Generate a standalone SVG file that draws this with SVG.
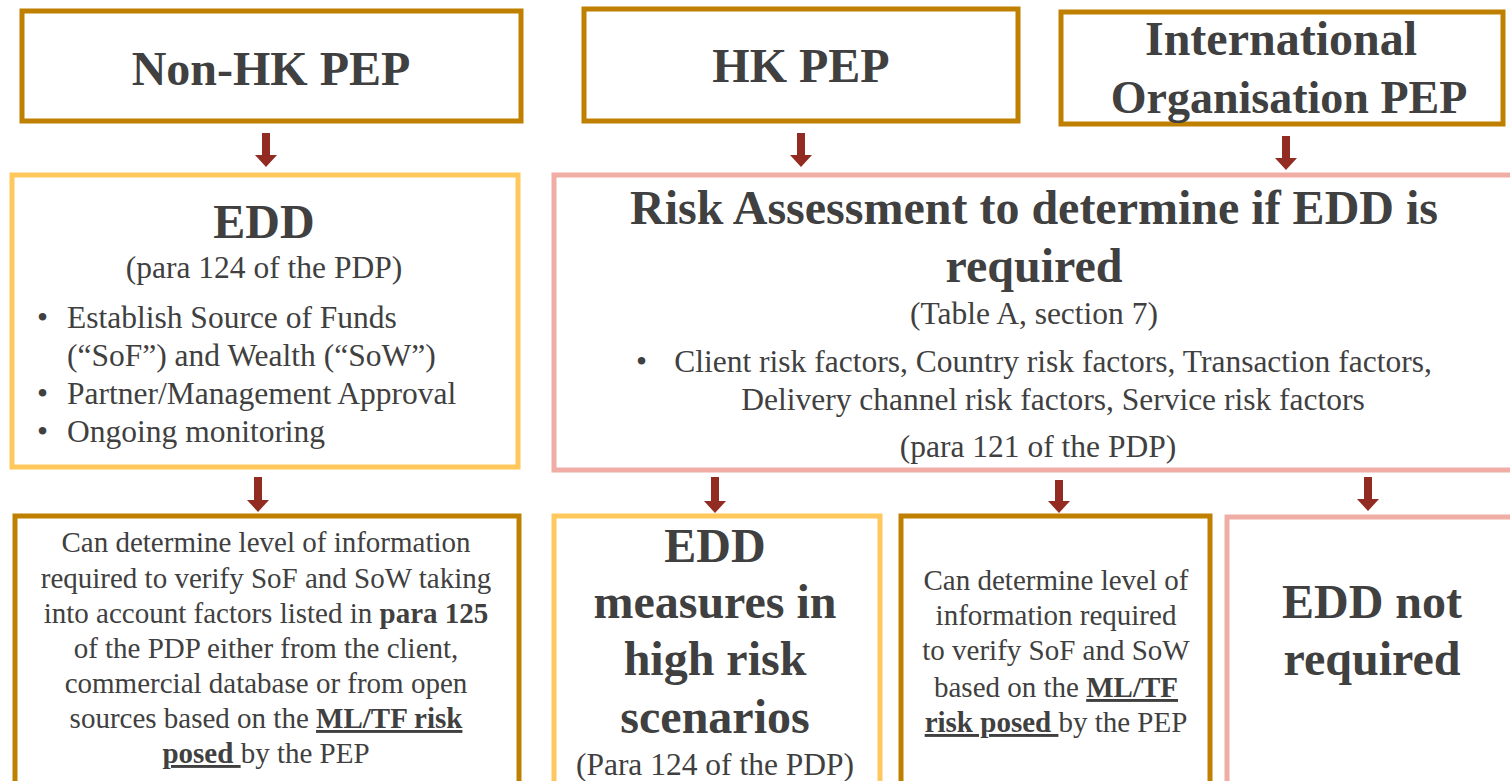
<svg xmlns="http://www.w3.org/2000/svg" width="1510" height="781" viewBox="0 0 1510 781">
<style>
.gold{fill:#fff;stroke:#BF8000;stroke-width:5}
.yel{fill:#fff;stroke:#FFC85C;stroke-width:5}
.pink{fill:#fff;stroke:#EFADA6;stroke-width:5}
text{font-family:"Liberation Serif","Times New Roman",serif;fill:#404040;text-anchor:middle}
.h{font-weight:bold;font-size:48px}
.r{font-size:31.5px}
.s{font-size:29px}
.b{font-weight:bold}
.u{font-weight:bold;text-decoration:underline}
.conn line{stroke:#922B21;stroke-width:8}
</style>
<defs>
<marker id="ah" markerUnits="userSpaceOnUse" markerWidth="12" markerHeight="22" viewBox="0 0 12 22" refX="0" refY="11" orient="auto">
<path d="M0,0 L12,11 L0,22 Z" fill="#922B21"/>
</marker>
</defs>
<rect width="1510" height="781" fill="#fff"/>

<g id="nonhk">
<rect class="gold" x="22" y="11" width="499" height="110"/>
<text class="h" x="271" y="85">Non-HK PEP</text>
</g>
<g id="hk">
<rect class="gold" x="584" y="9" width="434" height="112"/>
<text class="h" x="801" y="82">HK PEP</text>
</g>
<g id="intl">
<rect class="gold" x="1061" y="12" width="442" height="112"/>
<text class="h" x="1281" y="55">International</text>
<text class="h" x="1289" y="113" style="font-size:46px">Organisation PEP</text>
</g>

<g id="edd1">
<rect class="yel" x="12" y="175" width="506" height="292"/>
<text class="h" x="264" y="238">EDD</text>
<text class="r" x="264" y="278">(para 124 of the PDP)</text>
<text class="r" x="37" y="328" style="text-anchor:start">•</text>
<text class="r" x="67" y="328" style="text-anchor:start">Establish Source of Funds</text>
<text class="r" x="67" y="366" style="text-anchor:start">(“SoF”) and Wealth (“SoW”)</text>
<text class="r" x="37" y="404" style="text-anchor:start">•</text>
<text class="r" x="67" y="404" style="text-anchor:start">Partner/Management Approval</text>
<text class="r" x="37" y="442" style="text-anchor:start">•</text>
<text class="r" x="67" y="442" style="text-anchor:start">Ongoing monitoring</text>
</g>

<g id="risk">
<rect class="pink" x="554" y="175" width="965" height="295"/>
<text class="h" x="1034" y="224">Risk Assessment to determine if EDD is</text>
<text class="h" x="1034" y="282">required</text>
<text class="r" x="1034" y="324">(Table A, section 7)</text>
<text class="r" x="636" y="372" style="text-anchor:start">•</text>
<text class="r" x="1053" y="372">Client risk factors, Country risk factors, Transaction factors,</text>
<text class="r" x="1053" y="410">Delivery channel risk factors, Service risk factors</text>
<text class="r" x="1038" y="457">(para 121 of the PDP)</text>
</g>

<g id="verify1">
<rect class="gold" x="15" y="516" width="504" height="300"/>
<text class="s" x="266" y="552">Can determine level of information</text>
<text class="s" x="266" y="588">required to verify SoF and SoW taking</text>
<text class="s" x="266" y="623">into account factors listed in <tspan class="b">para 125</tspan></text>
<text class="s" x="266" y="658">of the PDP either from the client,</text>
<text class="s" x="266" y="693">commercial database or from open</text>
<text class="s" x="266" y="728">sources based on the <tspan class="u">ML/TF risk</tspan></text>
<text class="s" x="266" y="763"><tspan class="u">posed </tspan>by the PEP</text>
</g>

<g id="edd2">
<rect class="yel" x="554" y="516" width="326" height="300"/>
<text class="h" x="715" y="562">EDD</text>
<text class="h" x="715" y="618">measures in</text>
<text class="h" x="715" y="675">high risk</text>
<text class="h" x="715" y="733">scenarios</text>
<text class="r" x="715" y="775">(Para 124 of the PDP)</text>
</g>

<g id="verify2">
<rect class="gold" x="901" y="516" width="309" height="300"/>
<text class="s" x="1056" y="590">Can determine level of</text>
<text class="s" x="1056" y="625">information required</text>
<text class="s" x="1056" y="660">to verify SoF and SoW</text>
<text class="s" x="1056" y="697">based on the <tspan class="u">ML/TF</tspan></text>
<text class="s" x="1056" y="732"><tspan class="u">risk posed </tspan>by the PEP</text>
</g>

<g id="notreq">
<rect class="pink" x="1227" y="517" width="300" height="300"/>
<text class="h" x="1372" y="618">EDD not</text>
<text class="h" x="1372" y="675">required</text>
</g>

<g class="conn" id="connectors">
<line x1="266" y1="133" x2="266" y2="155" marker-end="url(#ah)"/>
<line x1="801" y1="133" x2="801" y2="155" marker-end="url(#ah)"/>
<line x1="1286" y1="136" x2="1286" y2="158" marker-end="url(#ah)"/>
<line x1="258" y1="477" x2="258" y2="500" marker-end="url(#ah)"/>
<line x1="715" y1="477" x2="715" y2="501" marker-end="url(#ah)"/>
<line x1="1059" y1="480" x2="1059" y2="501" marker-end="url(#ah)"/>
<line x1="1368" y1="477" x2="1368" y2="499" marker-end="url(#ah)"/>
</g>
</svg>
